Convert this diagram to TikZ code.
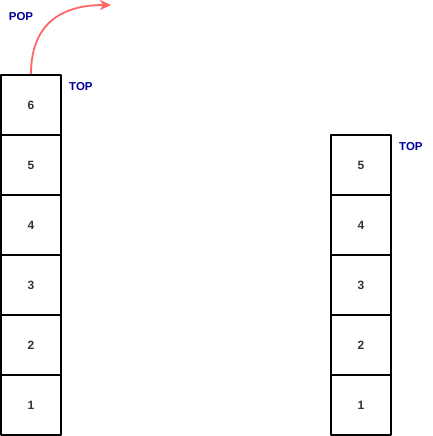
\documentclass[tikz,border=0pt]{standalone}
\usepackage{fontspec}
\setmainfont{Liberation Sans}
\usetikzlibrary{arrows.meta}
\definecolor{topblue}{HTML}{000099}
\definecolor{popred}{HTML}{FF6666}
\definecolor{numgray}{HTML}{333333}
\begin{document}
\begin{tikzpicture}[x=1pt,y=-1pt,>={Stealth[length=11pt,width=10pt,inset=3pt]},line join=round,font=\bfseries\fontsize{12}{14}\selectfont,
	cell/.style={draw,line width=2pt,minimum width=60pt,minimum height=60pt,inner sep=0pt,text=numgray},
	lbl/.style={text=topblue,inner sep=0pt,font=\bfseries\fontsize{11.5}{13}\selectfont}]
	\useasboundingbox (0,0) rectangle (432,436);
	% stack before and after pop
	\foreach \i in {1,...,6} \node[cell] (a\i) at (31,465-60*\i) {\i};
	\foreach \i in {1,...,5} \node[cell] (b\i) at (361,465-60*\i) {\i};
	\node[lbl,anchor=west] (topa) at (69,86.5) {TOP};
	\node[lbl,anchor=west] (topb) at (399,146.5) {TOP};
	\node[lbl] (pop) at (21,16.5) {POP};
	\coordinate (out) at (111,5);
	\draw[->,popred,line width=1.8pt] (a6.north)..controls (31,25) and (60,5)..(out);
\end{tikzpicture}
\end{document}
